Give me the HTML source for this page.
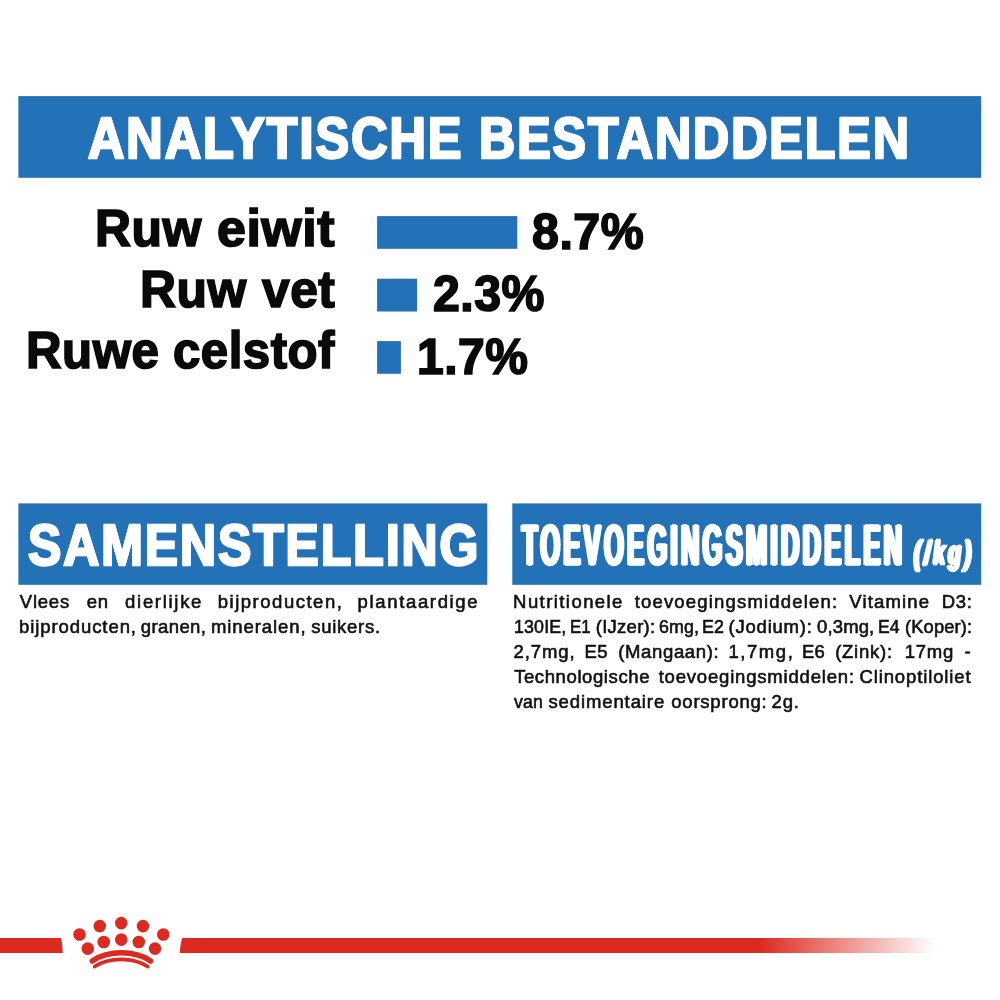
<!DOCTYPE html>
<html lang="nl">
<head>
<meta charset="utf-8">
<title>Analytische bestanddelen</title>
<style>
html,body{margin:0;padding:0;background:#fff;}
body{width:1000px;height:1000px;position:relative;overflow:hidden;font-family:"Liberation Sans",sans-serif;}
svg{position:absolute;left:0;top:0;width:1000px;height:1000px;display:block;}

.t{position:absolute;white-space:nowrap;font-family:"Liberation Sans",sans-serif;font-weight:bold;line-height:1;transform-origin:0 0;margin:0;padding:0;}

.p{position:absolute;left:0;top:0;margin:0;font-family:"Liberation Sans",sans-serif;font-size:18.50px;line-height:1;color:#111;}
.ln{position:absolute;left:0;white-space:nowrap;}
.wd{position:absolute;top:0;white-space:nowrap;transform-origin:0 0;transform:scaleX(1.000);-webkit-text-stroke:0.6px currentColor;}

</style>
</head>
<body>
<svg viewBox="0 0 1000 1000" width="1000" height="1000">
  <defs>
    <linearGradient id="fade" x1="0" y1="0" x2="1" y2="0">
      <stop offset="0" stop-color="#dd2a20" stop-opacity="1"/>
      <stop offset="1" stop-color="#dd2a20" stop-opacity="0"/>
    </linearGradient>
  </defs>
  <rect x="18.4" y="96.1" width="962.8" height="81.7" fill="#2371b7"/>
  <rect x="377.1" y="216.1" width="140.2" height="32.7" fill="#2371b7"/>
  <rect x="377.1" y="278.7" width="40" height="32.8" fill="#2371b7"/>
  <rect x="377.1" y="341.1" width="23.8" height="32.7" fill="#2371b7"/>
  <rect x="18.4" y="503.4" width="468.9" height="81.4" fill="#2371b7"/>
  <rect x="512.3" y="503.4" width="468.9" height="81.4" fill="#2371b7"/>
  <!-- footer -->
  <path d="M0 938 L61.2 938 Q62.6 945 62.8 953 L0 953 Z" fill="#dd2a20"/>
  <path d="M182 938 L760 938 L760 953 L179.7 953 Q180.2 945 182 938 Z" fill="#dd2a20"/>
  <rect x="760" y="938" width="175" height="15" fill="url(#fade)"/>
  <g fill="#dd2a20">
    <circle cx="79.5" cy="934.5" r="6.3"/>
    <circle cx="99.8" cy="926.1" r="6.3"/>
    <circle cx="121.25" cy="923.1" r="6.3"/>
    <circle cx="143" cy="926.1" r="6.3"/>
    <circle cx="163.25" cy="934.5" r="6.3"/>
    <circle cx="87.8" cy="948.6" r="6.3"/>
    <circle cx="103.7" cy="942.0" r="6.3"/>
    <circle cx="121.25" cy="939.6" r="6.3"/>
    <circle cx="138.8" cy="942.0" r="6.3"/>
    <circle cx="155" cy="948.6" r="6.3"/>
  </g>
  <path d="M92.3 961 A40 25.85 0 0 1 150.6 961" fill="none" stroke="#dd2a20" stroke-width="5.5" stroke-linecap="round"/>
  <path d="M94.6 966.6 A35 21 0 0 1 147.7 966.6" fill="none" stroke="#dd2a20" stroke-width="3.7" stroke-linecap="round"/>
</svg>
<div class="g">
<div class="t" style="left:87.99px;top:110.20px;font-size:56.40px;color:#fff;transform:scale(0.8929,1.0160);-webkit-text-stroke:2.3px #fff;text-shadow:1.12px 0 0 #fff,-1.12px 0 0 #fff;letter-spacing:2.24px;">ANALYTISCHE</div>
<div class="t" style="left:478.80px;top:110.21px;font-size:56.40px;color:#fff;transform:scale(0.8876,1.0160);-webkit-text-stroke:2.3px #fff;text-shadow:1.13px 0 0 #fff,-1.13px 0 0 #fff;letter-spacing:2.25px;">BESTANDDELEN</div>
</div>
<div class="g">
<div class="t" style="left:94.70px;top:202.25px;font-size:52.50px;color:#0a0a0a;transform:scale(0.9506,1.0000);-webkit-text-stroke:1.7px #0a0a0a;text-shadow:0.26px 0 0 #0a0a0a,-0.26px 0 0 #0a0a0a;letter-spacing:0.53px;">Ruw</div>
<div class="t" style="left:217.22px;top:202.25px;font-size:52.50px;color:#0a0a0a;transform:scale(0.9897,1.0000);-webkit-text-stroke:1.7px #0a0a0a;text-shadow:0.25px 0 0 #0a0a0a,-0.25px 0 0 #0a0a0a;letter-spacing:0.51px;">eiwit</div>
</div>
<div class="g">
<div class="t" style="left:139.70px;top:263.25px;font-size:52.50px;color:#0a0a0a;transform:scale(0.9506,1.0000);-webkit-text-stroke:1.7px #0a0a0a;text-shadow:0.26px 0 0 #0a0a0a,-0.26px 0 0 #0a0a0a;letter-spacing:0.53px;">Ruw</div>
<div class="t" style="left:261.90px;top:263.25px;font-size:52.50px;color:#0a0a0a;transform:scale(0.9474,1.0000);-webkit-text-stroke:1.7px #0a0a0a;text-shadow:0.26px 0 0 #0a0a0a,-0.26px 0 0 #0a0a0a;letter-spacing:0.53px;">vet</div>
</div>
<div class="g">
<div class="t" style="left:25.55px;top:324.25px;font-size:52.50px;color:#0a0a0a;transform:scale(0.9387,1.0000);-webkit-text-stroke:1.7px #0a0a0a;text-shadow:0.27px 0 0 #0a0a0a,-0.27px 0 0 #0a0a0a;letter-spacing:0.53px;">Ruwe</div>
<div class="t" style="left:173.17px;top:324.25px;font-size:52.50px;color:#0a0a0a;transform:scale(0.9367,1.0000);-webkit-text-stroke:1.7px #0a0a0a;text-shadow:0.27px 0 0 #0a0a0a,-0.27px 0 0 #0a0a0a;letter-spacing:0.53px;">celstof</div>
</div>
<div class="g">
<div class="t" style="left:532.25px;top:206.97px;font-size:50.00px;color:#0a0a0a;transform:scale(0.9671,1.0000);-webkit-text-stroke:1.7px #0a0a0a;text-shadow:0.26px 0 0 #0a0a0a,-0.26px 0 0 #0a0a0a;letter-spacing:0.52px;">8.7%</div>
</div>
<div class="g">
<div class="t" style="left:432.52px;top:269.47px;font-size:50.00px;color:#0a0a0a;transform:scale(0.9648,1.0000);-webkit-text-stroke:1.7px #0a0a0a;text-shadow:0.26px 0 0 #0a0a0a,-0.26px 0 0 #0a0a0a;letter-spacing:0.52px;">2.3%</div>
</div>
<div class="g">
<div class="t" style="left:416.89px;top:331.87px;font-size:50.00px;color:#0a0a0a;transform:scale(0.9604,1.0000);-webkit-text-stroke:1.7px #0a0a0a;text-shadow:0.26px 0 0 #0a0a0a,-0.26px 0 0 #0a0a0a;letter-spacing:0.52px;">1.7%</div>
</div>
<div class="g">
<div class="t" style="left:28.38px;top:516.69px;font-size:56.40px;color:#fff;transform:scale(0.8837,1.0160);-webkit-text-stroke:2.3px #fff;text-shadow:1.13px 0 0 #fff,-1.13px 0 0 #fff;letter-spacing:2.26px;">SAMENSTELLING</div>
</div>
<div class="g">
<div class="t" style="left:522.15px;top:516.80px;font-size:57.83px;color:#fff;transform:scale(0.4378,1.0000);-webkit-text-stroke:1.4px #fff;text-shadow:1.29px 0 0 #fff,-1.29px 0 0 #fff,2.59px 0 0 #fff,-2.59px 0 0 #fff,3.88px 0 0 #fff,-3.88px 0 0 #fff;letter-spacing:7.77px;">TOEVOEGINGSMIDDELEN</div>
<div class="t" style="left:913.98px;top:537.15px;font-size:32.50px;color:#fff;transform:scale(0.6349,1.0000);-webkit-text-stroke:2.4px #fff;text-shadow:1.34px 0 0 #fff,-1.34px 0 0 #fff,2.68px 0 0 #fff,-2.68px 0 0 #fff;font-style:italic;letter-spacing:5.36px;">(/kg)</div>
</div>
<div class="p">
<div class="ln" style="top:592.90px"><span class="wd" style="left:19.81px;letter-spacing:0.77px">Vlees</span> <span class="wd" style="left:86.65px;letter-spacing:0.70px">en</span> <span class="wd" style="left:125.08px;letter-spacing:1.70px">dierlijke</span> <span class="wd" style="left:217.71px;letter-spacing:1.52px">bijproducten,</span> <span class="wd" style="left:357.61px;letter-spacing:1.65px">plantaardige</span></div>
<div class="ln" style="top:617.90px"><span class="wd" style="left:18.91px;letter-spacing:0.93px">bijproducten,</span> <span class="wd" style="left:140.68px;letter-spacing:0.42px">granen,</span> <span class="wd" style="left:210.88px;letter-spacing:0.94px">mineralen,</span> <span class="wd" style="left:311.28px;letter-spacing:0.72px">suikers.</span></div>
</div>
<div class="p">
<div class="ln" style="top:592.90px"><span class="wd" style="left:513.10px;letter-spacing:1.43px">Nutritionele</span> <span class="wd" style="left:634.67px;letter-spacing:1.18px">toevoegingsmiddelen:</span> <span class="wd" style="left:849.31px;letter-spacing:1.15px">Vitamine</span> <span class="wd" style="left:941.80px;letter-spacing:0.63px">D3:</span></div>
<div class="ln" style="top:617.90px"><span class="wd" style="left:514.17px;letter-spacing:0.15px;transform:scaleX(0.962)">130IE,</span> <span class="wd" style="left:570.10px;letter-spacing:0.15px;transform:scaleX(0.906)">E1</span> <span class="wd" style="left:595.85px;letter-spacing:0.24px">(IJzer):</span> <span class="wd" style="left:659.26px;letter-spacing:0.15px;transform:scaleX(0.963)">6mg,</span> <span class="wd" style="left:702.04px;letter-spacing:0.15px;transform:scaleX(0.963)">E2</span> <span class="wd" style="left:728.55px;letter-spacing:0.78px">(Jodium):</span> <span class="wd" style="left:817.20px;letter-spacing:0.15px;transform:scaleX(0.999)">0,3mg,</span> <span class="wd" style="left:878.25px;letter-spacing:0.15px;transform:scaleX(0.949)">E4</span> <span class="wd" style="left:904.76px;letter-spacing:0.15px;transform:scaleX(0.989)">(Koper):</span></div>
<div class="ln" style="top:642.90px"><span class="wd" style="left:513.59px;letter-spacing:0.90px">2,7mg,</span> <span class="wd" style="left:584.40px;letter-spacing:0.55px">E5</span> <span class="wd" style="left:618.15px;letter-spacing:0.66px">(Mangaan):</span> <span class="wd" style="left:728.43px;letter-spacing:1.57px">1,7mg,</span> <span class="wd" style="left:801.91px;letter-spacing:0.15px;transform:scaleX(0.996)">E6</span> <span class="wd" style="left:835.15px;letter-spacing:0.75px">(Zink):</span> <span class="wd" style="left:904.63px;letter-spacing:0.76px">17mg</span> <span class="wd" style="left:964.56px">-</span></div>
<div class="ln" style="top:667.90px"><span class="wd" style="left:514.13px;letter-spacing:0.60px">Technologische</span> <span class="wd" style="left:658.67px;letter-spacing:0.81px">toevoegingsmiddelen:</span> <span class="wd" style="left:859.44px;letter-spacing:0.88px">Clinoptiloliet</span></div>
<div class="ln" style="top:692.90px"><span class="wd" style="left:513.52px;letter-spacing:0.15px;transform:scaleX(0.957)">van</span> <span class="wd" style="left:548.38px;letter-spacing:0.90px">sedimentaire</span> <span class="wd" style="left:671.27px;letter-spacing:0.78px">oorsprong:</span> <span class="wd" style="left:771.49px;letter-spacing:0.86px">2g.</span></div>
</div>
</body>
</html>
